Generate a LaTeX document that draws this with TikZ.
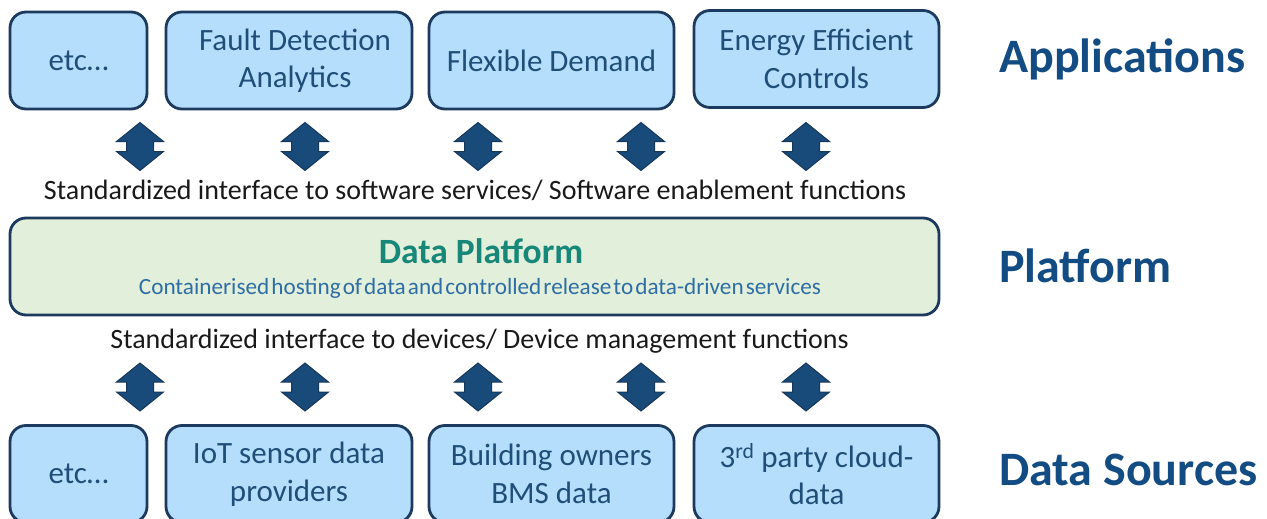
\documentclass[tikz,border=0pt]{standalone}
\usepackage{fontspec}
\setmainfont{Carlito}
\definecolor{boxfill}{RGB}{181,222,252}
\definecolor{boxline}{RGB}{28,58,94}
\definecolor{boxtext}{RGB}{31,78,121}
\definecolor{labtext}{RGB}{18,76,130}
\definecolor{platfill}{RGB}{226,239,218}
\definecolor{plattitle}{RGB}{22,135,120}
\definecolor{platsub}{RGB}{46,110,165}
\definecolor{arrfill}{RGB}{24,74,122}
\definecolor{arrline}{RGB}{22,55,90}
\begin{document}
\begin{tikzpicture}[x=1pt,y=-1pt,
  appbox/.style={rectangle, rounded corners=16pt, draw=boxline, line width=2.8pt,
    fill=boxfill, text=boxtext, font=\fontsize{31}{37.5}\selectfont, align=center,
    inner sep=0pt, minimum height=97pt},
  platbox/.style={rectangle, rounded corners=16pt, draw=boxline, line width=2.8pt,
    fill=platfill, inner sep=0pt},
  iftext/.style={anchor=base, text=black!90, font=\fontsize{28}{30}\selectfont, inner sep=0pt},
  layerlab/.style={anchor=base west, text=labtext, font=\bfseries\fontsize{48}{50}\selectfont, inner sep=0pt},
  arrowshape/.style={fill=arrfill, draw=arrline, line width=1pt, line join=miter},
  dblarrow/.pic={
    \path[arrowshape] (0,-24) -- (23.5,-5) -- (13.5,-5) -- (13.5,5) -- (23.5,5)
      -- (0,24) -- (-23.5,5) -- (-13.5,5) -- (-13.5,-5) -- (-23.5,-5) -- cycle;
  }]
\useasboundingbox (0,0) rectangle (1267,519);
\clip (0,0) rectangle (1267,519);

% Applications row
\node[appbox, minimum width=137pt] (t1) at (78.5,60.5) {etc…};
\node[appbox, minimum width=246pt] (t2) at (289,60.5) {\hspace{12pt}Fault Detection\\\hspace{12pt}Analytics};
\node[appbox, minimum width=245pt] (t3) at (551.5,60.5) {Flexible Demand};
\node[appbox, minimum width=245pt] (t4) at (816.5,59) {Energy Efficient\\Controls};

% Data sources row
\node[appbox, minimum width=137pt] (b1) at (78.5,474) {etc…};
\node[appbox, minimum width=246pt] (b2) at (289,474) {IoT sensor data\\providers};
\node[appbox, minimum width=245pt] (b3) at (551.5,474) {Building owners\\BMS data};
\node[appbox, minimum width=245pt] (b4) at (816.5,474) {3\textsuperscript{rd} party cloud-\\data};

% Platform
\node[platbox, minimum width=929pt, minimum height=97pt] (plat) at (474.5,266.5) {};
\node[anchor=base, text=plattitle, font=\bfseries\fontsize{35.5}{38}\selectfont, inner sep=0pt]
  (ptitle) at (481,263) {Data Platform};
\node[anchor=base, text=platsub, font=\fontsize{23.2}{25}\selectfont, inner sep=0pt]
  (psub) at (480,294) {\spaceskip=0.09em plus 0.02em minus 0.02em Containerised hosting of data and controlled release to data-driven services};

% Interface texts
\node[iftext] (if1) at (475,199) {Standardized interface to software services/ Software enablement functions};
\node[iftext] (if2) at (479.5,348) {Standardized interface to devices/ Device management functions};

% Layer labels
\node[layerlab] (lapp) at (999,73) {Applications};
\node[layerlab] (lplat) at (999,282) {Platform};
\node[layerlab] (lds) at (999,485) {Data Sources};

% Arrows
\foreach \x/\n in {140/1,305/2,478/3,641/4,806/5}{
  \coordinate (ua\n) at (\x,146.5);
  \coordinate (la\n) at (\x,387);
  \pic at (ua\n) {dblarrow};
  \pic at (la\n) {dblarrow};
}
\end{tikzpicture}
\end{document}
